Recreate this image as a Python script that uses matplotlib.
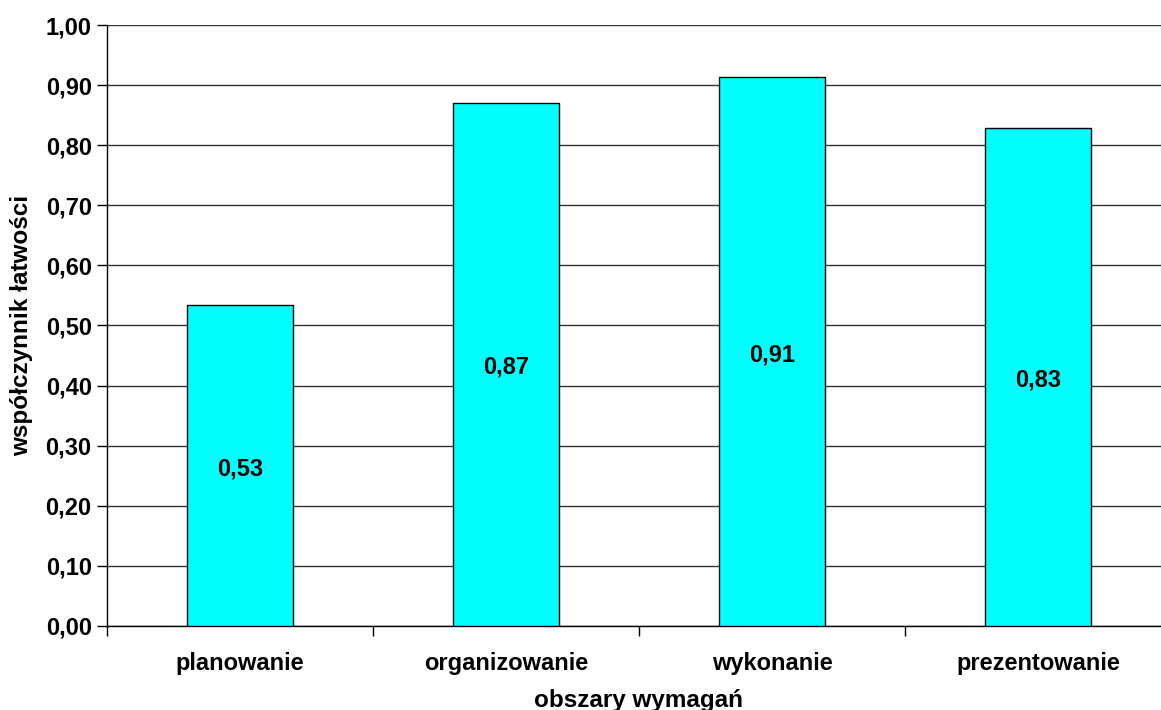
import numpy as np
from matplotlib import pyplot as plt
from matplotlib.ticker import MultipleLocator, FuncFormatter

categories = ["planowanie", "organizowanie", "wykonanie", "prezentowanie"]
values = [0.534, 0.871, 0.913, 0.829]
labels = ["0,53", "0,87", "0,91", "0,83"]

plt.rcParams['font.family'] = ['Liberation Sans', 'DejaVu Sans']
plt.rcParams['font.weight'] = 'bold'

fig = plt.figure(figsize=(11.61, 7.10), dpi=100)
ax = fig.add_axes([107/1161, 84/710, 1064/1161, 601/710])

x = np.arange(len(categories))
ax.bar(x, values, width=0.4, color='#00ffff', edgecolor='black', linewidth=1, zorder=3)
for xi, v, lab in zip(x, values, labels):
    ax.text(xi, v/2 - 0.005, lab, ha='center', va='center', fontsize=17, fontweight='bold', zorder=4)

ax.set_xlim(-0.5, len(categories) - 0.5)
ax.set_ylim(0, 1.0)
ax.yaxis.set_major_locator(MultipleLocator(0.1))
ax.yaxis.set_major_formatter(FuncFormatter(lambda v, p: f"{v:.2f}".replace('.', ',')))
ax.grid(axis='y', color='#333333', linewidth=1, zorder=0)

ax.set_xticks(x)
ax.set_xticklabels(categories, fontsize=17, fontweight='bold')
ax.tick_params(axis='x', length=0, pad=19)
ax.set_xticks(np.arange(len(categories) + 1) - 0.5, minor=True)
ax.tick_params(axis='x', which='minor', length=7, width=1)
ax.tick_params(axis='y', length=7, width=1, labelsize=17, pad=4)
for lab in ax.get_yticklabels():
    lab.set_fontweight('bold')

for s in ['top', 'right']:
    ax.spines[s].set_visible(False)
ax.spines['left'].set_linewidth(1)
ax.spines['bottom'].set_linewidth(1)

ax.set_xlabel("obszary wymagań", fontsize=17.5, fontweight='bold', labelpad=10)
ax.set_ylabel("współczynnik łatwości", fontsize=17.5, fontweight='bold', labelpad=9)

plt.savefig("out.png", dpi=100)
